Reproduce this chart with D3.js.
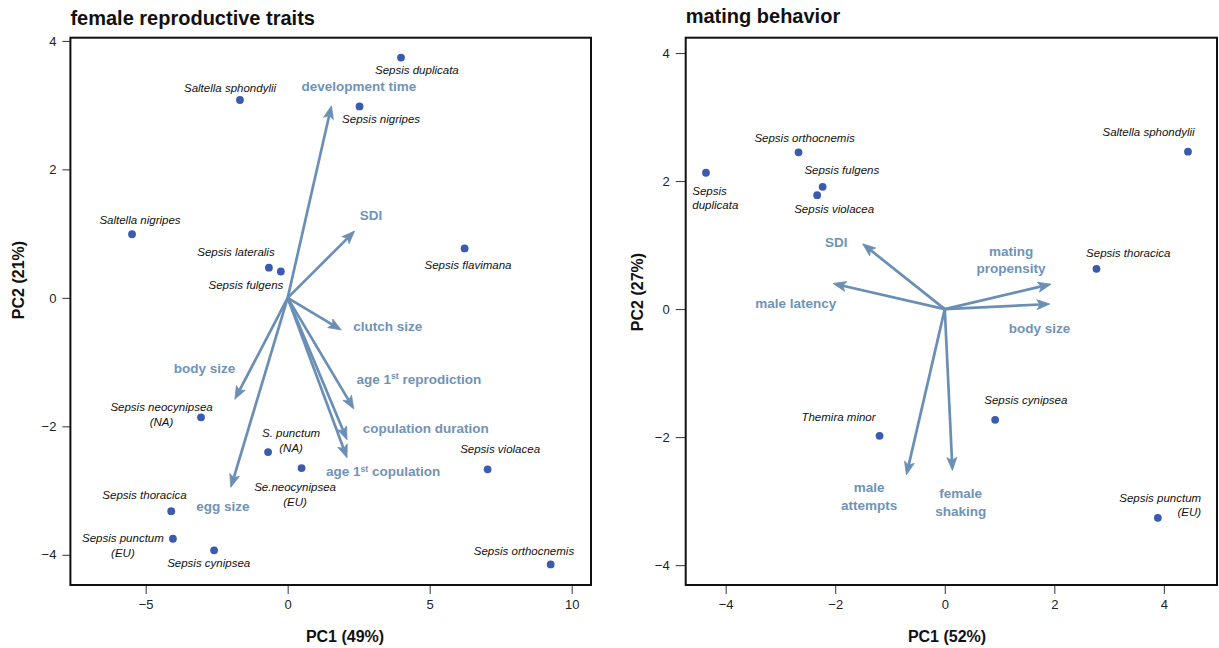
<!DOCTYPE html>
<html><head><meta charset="utf-8">
<script src="https://cdn.jsdelivr.net/npm/d3@7"></script>
<style>body{margin:0;background:#fff} svg{display:block}</style>
</head><body><svg id="c" width="1219" height="648"></svg>
<script>
// ---------- DATA: female reproductive traits ----------
const frSpecies = ["Sepsis duplicata","Saltella sphondylii","Sepsis nigripes","Saltella nigripes","Sepsis lateralis","Sepsis fulgens","Sepsis flavimana","Sepsis neocynipsea\n(NA)","S. punctum\n(NA)","Se.neocynipsea\n(EU)","Sepsis violacea","Sepsis thoracica","Sepsis punctum\n(EU)","Sepsis cynipsea","Sepsis orthocnemis"];
const frPC1 = [3.99,-1.68,2.53,-5.48,-0.66,-0.24,6.23,-3.05,-0.69,0.49,7.04,-4.10,-4.04,-2.59,9.26];
const frPC2 = [3.74,3.08,2.98,0.99,0.47,0.41,0.77,-1.86,-2.40,-2.65,-2.67,-3.32,-3.75,-3.93,-4.15];
const frTraits = ["development time","SDI","clutch size","body size","age 1^st^ reprodiction","copulation duration","age 1^st^ copulation","egg size"];
const frLoad1 = [1.54,2.36,1.89,-1.86,2.33,2.09,2.09,-2.00];
const frLoad2 = [2.99,1.04,-0.50,-1.58,-1.73,-2.21,-2.49,-2.95];
const frXTicks = [-5,0,5,10];
const frYTicks = [-4,-2,0,2,4];

// ---------- DATA: mating behavior ----------
const mbSpecies = ["Sepsis orthocnemis","Sepsis\nduplicata","Sepsis fulgens","Sepsis violacea","Saltella sphondylii","Sepsis thoracica","Themira minor","Sepsis cynipsea","Sepsis punctum\n(EU)"];
const mbPC1 = [-2.67,-4.36,-2.23,-2.33,4.44,2.77,-1.19,0.92,3.89];
const mbPC2 = [2.45,2.13,1.91,1.78,2.46,0.63,-1.98,-1.73,-3.26];
const mbTraits = ["SDI","male latency","mating\npropensity","body size","male\nattempts","female\nshaking"];
const mbLoad1 = [-1.50,-2.04,1.94,1.92,-0.70,0.14];
const mbLoad2 = [1.02,0.40,0.39,0.08,-2.59,-2.52];
const mbXTicks = [-4,-2,0,2,4];
const mbYTicks = [-4,-2,0,2,4];

// ---------- LAYOUT (label anchors in data units, alignment) ----------
const frSpLabX = [4.55,-2.03,3.29,-5.20,-1.82,-1.47,6.35,-4.44,0.12,0.26,7.48,-5.04,-5.80,-2.78,8.32];
const frSpLabY = [3.55,3.27,2.79,1.21,0.72,0.20,0.51,-1.70,-2.11,-2.95,-2.36,-3.07,-3.74,-4.12,-3.94];
const frTrLabX = [2.51,2.93,3.52,-2.93,4.62,4.86,3.36,-2.28];
const frTrLabY = [3.29,1.29,-0.44,-1.09,-1.26,-2.03,-2.70,-3.25];
const mbSpLabX = [-2.56,-4.61,-1.88,-2.02,3.72,3.35,-1.94,1.48,4.68];
const mbSpLabY = [2.68,1.85,2.17,1.57,2.77,0.875,-1.68,-1.42,-2.95];
const mbSpAnchor = ["middle","start","middle","middle","middle","middle","middle","middle","end"];
const mbTrLabX = [-1.98,-2.72,1.21,1.73,-1.38,0.29];
const mbTrLabY = [1.05,0.09,0.91,-0.30,-2.79,-2.88];

const panels = [
  {title:"female reproductive traits", xLab:"PC1 (49%)", yLab:"PC2 (21%)",
   box:[70.4,591,37.7,585], xDom:[-7.65,10.68], yDom:[-4.47,4.05],
   xTicks:frXTicks, yTicks:frYTicks, titleY:25, xLabX:345, yLabX:18, yLabY:280, yTickLen:8,
   sp: frSpecies.map((n,i)=>({n, x:frPC1[i], y:frPC2[i], lx:frSpLabX[i], ly:frSpLabY[i], a:"middle"})),
   tr: frTraits.map((n,i)=>({n, x:frLoad1[i], y:frLoad2[i], lx:frTrLabX[i], ly:frTrLabY[i]}))},
  {title:"mating behavior", xLab:"PC1 (52%)", yLab:"PC2 (27%)",
   box:[685.7,1217,37.7,585], xDom:[-4.73,4.97], yDom:[-4.31,4.24],
   xTicks:mbXTicks, yTicks:mbYTicks, titleY:23, xLabX:947, yLabX:637, yLabY:292, yTickLen:10,
   sp: mbSpecies.map((n,i)=>({n, x:mbPC1[i], y:mbPC2[i], lx:mbSpLabX[i], ly:mbSpLabY[i], a:mbSpAnchor[i]})),
   tr: mbTraits.map((n,i)=>({n, x:mbLoad1[i], y:mbLoad2[i], lx:mbTrLabX[i], ly:mbTrLabY[i]}))}
];

const FONT = "'Liberation Sans', Arial, Helvetica, sans-serif";
const ARROW = "#6b8fb4", TRTXT = "#7093b8", DOT = "#3a5bb0";
const svg = d3.select("#c").style("font-family", FONT);

function addLines(sel, str, lh){
  const lines = str.split("\n");
  lines.forEach((ln,k)=>{
    const parts = ln.split("^");
    parts.forEach((p,j)=>{
      if(p==="") return;
      const t = sel.append("tspan").text(p);
      if(j===0){ t.attr("x", sel.attr("x")).attr("dy", k===0 ? "0.35em" : lh+"px"); }
      if(j%2===1){ t.attr("font-size","65%").attr("dy","-0.5em"); }
      else if(j>0){ t.attr("dy","0.33em"); }
    });
  });
}

panels.forEach(P=>{
  const [x0,x1,y0,y1] = P.box;
  const x = d3.scaleLinear().domain(P.xDom).range([x0,x1]);
  const y = d3.scaleLinear().domain(P.yDom).range([y1,y0]);
  const g = svg.append("g");

  // axes
  const ax = g.append("g").attr("transform",`translate(0,${y1})`)
    .call(d3.axisBottom(x).tickValues(P.xTicks).tickSize(9).tickPadding(6));
  const ay = g.append("g").attr("transform",`translate(${x0},0)`)
    .call(d3.axisLeft(y).tickValues(P.yTicks).tickSize(P.yTickLen).tickPadding(6));
  [ax,ay].forEach(a=>{
    a.select(".domain").remove();
    a.selectAll("line").attr("stroke","#333").attr("stroke-width",1);
    a.selectAll("text").attr("font-family",FONT).attr("font-size","13px").attr("fill","#222");
  });

  // box
  g.append("rect").attr("x",x0).attr("y",y0).attr("width",x1-x0).attr("height",y1-y0)
    .attr("fill","none").attr("stroke","#111").attr("stroke-width",2);

  // titles
  g.append("text").attr("x",x0).attr("y",P.titleY).text(P.title)
    .attr("font-size","20px").attr("font-weight","bold").attr("fill","#111");
  g.append("text").attr("x",P.xLabX).attr("y",642).attr("text-anchor","middle").text(P.xLab)
    .attr("font-size","16px").attr("font-weight","bold").attr("fill","#111");
  g.append("text").attr("transform",`translate(${P.yLabX+6},${P.yLabY}) rotate(-90)`)
    .attr("text-anchor","middle").text(P.yLab)
    .attr("font-size","16px").attr("font-weight","bold").attr("fill","#111");

  // arrows
  const ox = x(0), oy = y(0);
  P.tr.forEach(d=>{
    const tx = x(d.x), ty = y(d.y);
    const ang = Math.atan2(ty-oy, tx-ox);
    const L = 13, Wd = 5;
    const bx = tx - L*Math.cos(ang), by = ty - L*Math.sin(ang);
    const nx = tx - (L-3)*Math.cos(ang), ny = ty - (L-3)*Math.sin(ang);
    g.append("line").attr("x1",ox).attr("y1",oy).attr("x2", nx).attr("y2", ny)
      .attr("stroke",ARROW).attr("stroke-width",2.7);
    const px = -Math.sin(ang), py = Math.cos(ang);
    g.append("path").attr("d",
      `M${tx},${ty}L${bx+px*Wd},${by+py*Wd}L${nx},${ny}L${bx-px*Wd},${by-py*Wd}Z`)
      .attr("fill",ARROW).attr("stroke",ARROW).attr("stroke-width",0.8).attr("stroke-linejoin","round");
  });

  // trait labels
  P.tr.forEach(d=>{
    const t = g.append("text").attr("x",x(d.lx)).attr("y",y(d.ly)).attr("text-anchor","middle")
      .attr("font-size","13.5px").attr("font-weight","bold").attr("fill",TRTXT);
    addLines(t, d.n, 17.5);
  });

  // species points
  g.selectAll("circle.sp").data(P.sp).join("circle").attr("class","sp")
    .attr("cx",d=>x(d.x)).attr("cy",d=>y(d.y)).attr("r",3.9).attr("fill",DOT);

  // species labels
  P.sp.forEach(d=>{
    const t = g.append("text").attr("x",x(d.lx)).attr("y",y(d.ly)).attr("text-anchor",d.a)
      .attr("font-size","11.5px").attr("font-style","italic").attr("fill","#111");
    addLines(t, d.n, 14.5);
  });
});
</script></body></html>
